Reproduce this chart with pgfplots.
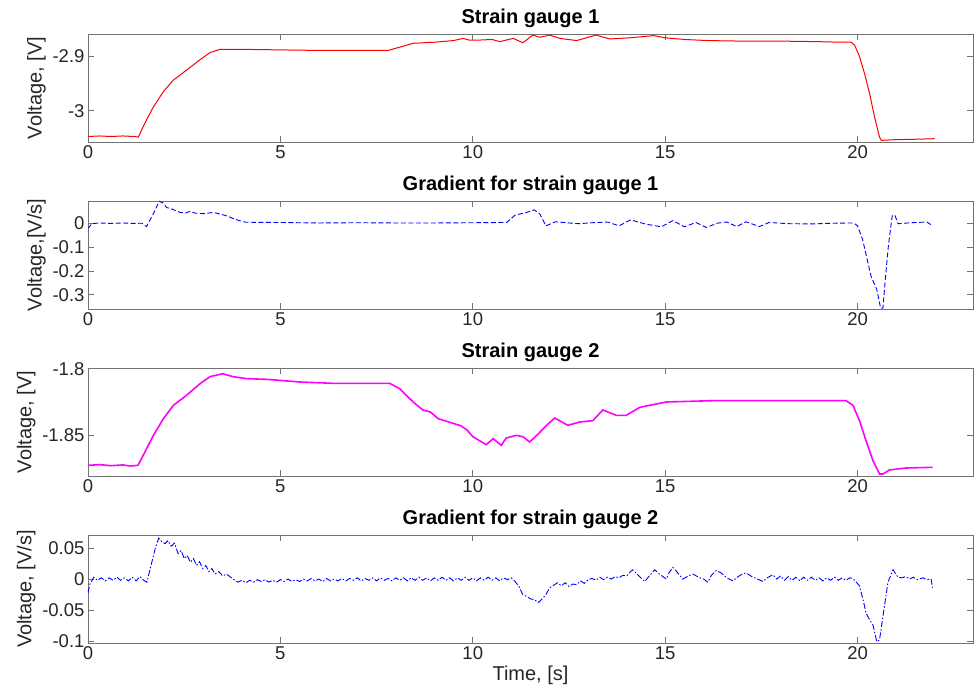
\documentclass[border=0pt]{standalone}
\usepackage{fontspec}
\setmainfont{Liberation Sans}
\usepackage{pgfplots}
\pgfplotsset{compat=1.18}
\definecolor{mred}{RGB}{255,0,0}
\definecolor{mmag}{RGB}{255,0,255}
\definecolor{mblue}{RGB}{0,0,255}
\pgfplotsset{
  panel/.style={
    width=885pt, height=108pt, scale only axis,
    anchor=south west,
    xmin=0, xmax=23,
    xtick={0,5,10,15,20}, xticklabels={0,5,10,15,20},
    tick align=inside,
    axis line style={black!55, line width=0.8pt},
    tick style={black!55, line width=0.8pt},
    major tick length=6pt,
    tick label style={font=\fontsize{18.5}{20}\selectfont, text=black!85},
    label style={font=\fontsize{20}{22}\selectfont, text=black!85},
    title style={font=\bfseries\fontsize{20}{22}\selectfont, yshift=-3pt},
  }
}
\begin{document}
\begin{tikzpicture}
\useasboundingbox (0pt,0pt) rectangle (977pt,700pt);

% ---------- Panel 1 ----------
\begin{axis}[panel, at={(88pt,558pt)},
  title={Strain gauge 1},
  ylabel={Voltage, [V]},
  ymin=-3.057, ymax=-2.86,
  ytick={-3,-2.9}, yticklabels={-3,-2.9}]
\addplot[mred, line width=1pt] coordinates {
(0,-3.047)(0.3,-3.046)(0.6,-3.047)(0.9,-3.046)(1.2,-3.047)(1.31,-3.048)(1.4,-3.034)(1.52,-3.017)(1.7,-2.993)(1.96,-2.965)(2.22,-2.944)(2.56,-2.926)(2.91,-2.907)(3.17,-2.894)(3.43,-2.888)(4,-2.888)(5,-2.889)(6,-2.890)(7,-2.890)(7.8,-2.890)(8.1,-2.884)(8.45,-2.877)(9,-2.875)(9.5,-2.872)(9.75,-2.868)(9.9,-2.871)(10.2,-2.871)(10.5,-2.870)(10.7,-2.874)(11.05,-2.868)(11.3,-2.876)(11.45,-2.868)(11.56,-2.862)(11.74,-2.866)(12.0,-2.862)(12.26,-2.868)(12.7,-2.872)(13.0,-2.866)(13.2,-2.862)(13.4,-2.866)(13.56,-2.869)(14.08,-2.867)(14.7,-2.863)(15.0,-2.867)(15.5,-2.870)(16.1,-2.872)(17,-2.873)(18,-2.873)(19,-2.874)(19.53,-2.875)(19.83,-2.875)(19.92,-2.880)(20.05,-2.901)(20.18,-2.932)(20.31,-2.968)(20.44,-3.011)(20.57,-3.048)(20.62,-3.054)(20.9,-3.053)(21.5,-3.052)(22.0,-3.051)
};
\end{axis}

% ---------- Panel 2 ----------
\begin{axis}[panel, at={(88pt,391pt)},
  title={Gradient for strain gauge 1},
  ylabel={Voltage,[V/s]},
  ymin=-0.359, ymax=0.093,
  ytick={-0.3,-0.2,-0.1,0}, yticklabels={-0.3,-0.2,-0.1,0}]
\addplot[mblue, line width=0.9pt, dash pattern=on 5pt off 2.5pt] coordinates {
(0,-0.022)(0.1,-0.002)(0.3,0.001)(0.6,-0.001)(0.9,0.001)(1.2,-0.001)(1.4,0)(1.52,-0.014)(1.7,0.04)(1.85,0.092)(1.95,0.085)(2.04,0.066)(2.2,0.058)(2.4,0.045)(2.55,0.043)(2.64,0.049)(2.8,0.042)(3.0,0.040)(3.26,0.045)(3.4,0.040)(3.6,0.031)(3.8,0.018)(3.95,0.010)(4.1,0.004)(5,0.003)(6,0.001)(7,0.002)(8,0.001)(9,0.001)(10,0.002)(10.88,0.003)(11.1,0.034)(11.4,0.045)(11.6,0.056)(11.74,0.039)(11.9,-0.011)(12.15,0.006)(12.5,0.001)(12.76,-0.002)(13.1,0.002)(13.5,0.005)(13.8,-0.011)(14.1,0.014)(14.5,-0.004)(14.9,-0.015)(15.2,0.011)(15.5,-0.015)(15.8,0.003)(16.07,-0.018)(16.35,0.000)(16.6,0.005)(16.86,-0.014)(17.1,0.006)(17.45,-0.014)(17.7,0.003)(18.2,-0.002)(18.8,-0.003)(19.4,0.000)(19.9,0.001)(20.0,-0.011)(20.13,-0.068)(20.35,-0.222)(20.5,-0.278)(20.6,-0.356)(20.66,-0.355)(20.72,-0.236)(20.8,-0.096)(20.9,0.031)(20.97,0.034)(21.05,-0.002)(21.4,0.002)(21.8,0.005)(21.95,-0.011)
};
\end{axis}

% ---------- Panel 3 ----------
\begin{axis}[panel, at={(88pt,224pt)},
  title={Strain gauge 2},
  ylabel={Voltage, [V]},
  ymin=-1.8805, ymax=-1.7995,
  ytick={-1.85,-1.8}, yticklabels={-1.85,-1.8}]
\addplot[mmag, line width=1.6pt] coordinates {
(0,-1.8725)(0.3,-1.8720)(0.6,-1.8728)(0.9,-1.8722)(1.1,-1.8730)(1.3,-1.8725)(1.48,-1.8625)(1.7,-1.850)(1.96,-1.8375)(2.22,-1.8275)(2.56,-1.820)(2.91,-1.8113)(3.17,-1.806)(3.5,-1.8038)(3.77,-1.806)(4.12,-1.8075)(4.64,-1.808)(5.5,-1.810)(6.37,-1.811)(7.2,-1.811)(7.84,-1.811)(8.1,-1.815)(8.45,-1.825)(8.7,-1.831)(8.9,-1.8325)(9.1,-1.8375)(9.49,-1.841)(9.7,-1.843)(9.85,-1.846)(10.0,-1.851)(10.35,-1.857)(10.53,-1.8525)(10.74,-1.8575)(10.87,-1.852)(11.13,-1.850)(11.3,-1.851)(11.48,-1.855)(11.7,-1.849)(11.9,-1.843)(12.13,-1.837)(12.47,-1.8425)(12.78,-1.840)(13.12,-1.839)(13.38,-1.831)(13.73,-1.835)(13.99,-1.835)(14.34,-1.829)(14.68,-1.827)(15.03,-1.825)(16.24,-1.824)(17.5,-1.824)(18.5,-1.824)(19.7,-1.824)(19.88,-1.8275)(20.05,-1.839)(20.22,-1.854)(20.4,-1.869)(20.57,-1.879)(20.66,-1.879)(20.83,-1.876)(21.26,-1.8745)(21.95,-1.874)
};
\end{axis}

% ---------- Panel 4 ----------
\begin{axis}[panel, at={(88pt,57pt)},
  title={Gradient for strain gauge 2},
  ylabel={Voltage, [V/s]},
  xlabel={Time, [s]},
  ymin=-0.103, ymax=0.071,
  ytick={-0.1,-0.05,0,0.05}, yticklabels={-0.1,-0.05,0,0.05}]
\addplot[mblue, line width=0.9pt, dash pattern=on 6pt off 2pt on 1.5pt off 2pt] coordinates {
(0,-0.022)(0.05,-0.008)(0.15,0.003)(0.25,-0.002)(0.35,0.002)(0.45,-0.003)(0.55,0.002)(0.65,-0.002)(0.75,0.003)(0.85,-0.002)(0.95,0.002)(1.05,-0.003)(1.15,0.003)(1.25,-0.003)(1.35,0.004)(1.45,-0.002)(1.53,-0.005)(1.65,0.025)(1.75,0.050)(1.84,0.066)(1.92,0.060)(2.0,0.057)(2.08,0.062)(2.16,0.053)(2.25,0.058)(2.34,0.041)(2.42,0.046)(2.5,0.033)(2.58,0.038)(2.66,0.027)(2.74,0.033)(2.82,0.022)(2.9,0.028)(2.98,0.017)(3.06,0.022)(3.14,0.012)(3.22,0.017)(3.3,0.008)(3.4,0.012)(3.5,0.005)(3.6,0.008)(3.75,0.001)(3.9,-0.005)(4.0,-0.002)(4.1,-0.006)(4.2,-0.002)(4.3,-0.005)(4.4,-0.001)
(4.5,-0.004)(4.6,-0.001)(4.7,-0.005)(4.8,-0.002)(4.9,-0.005)(5.0,-0.001)(5.1,-0.004)(5.2,0.000)(5.3,-0.004)(5.4,-0.001)(5.5,-0.004)(5.6,0.000)(5.7,-0.003)(5.8,0.001)(5.9,-0.003)(6.0,0.000)(6.1,-0.004)(6.2,0.001)(6.3,-0.003)(6.4,0.000)(6.5,-0.003)(6.6,0.001)(6.7,-0.003)(6.8,0.001)(6.9,-0.002)(7.0,0.002)(7.1,-0.003)(7.2,0.001)(7.3,-0.002)(7.4,0.002)(7.5,-0.003)(7.6,0.002)(7.7,-0.002)(7.8,0.001)(7.9,-0.003)(8.0,0.002)(8.1,-0.002)(8.2,0.002)(8.3,-0.003)(8.4,0.002)(8.5,-0.002)(8.6,0.003)(8.7,-0.002)(8.8,0.002)(8.9,-0.003)(9.0,0.002)(9.1,-0.002)(9.2,0.003)(9.3,-0.002)(9.4,0.002)(9.5,-0.003)(9.6,0.002)(9.7,-0.002)(9.8,0.003)(9.9,-0.002)(10.0,0.002)(10.1,-0.003)(10.2,0.002)(10.3,-0.002)(10.4,0.003)(10.5,-0.002)(10.6,0.002)(10.7,-0.003)(10.8,0.002)(10.9,-0.001)(11.0,0.002)(11.1,-0.004)(11.2,-0.012)(11.3,-0.025)(11.4,-0.028)(11.5,-0.032)(11.6,-0.033)(11.7,-0.038)(11.8,-0.032)(11.9,-0.025)(12.0,-0.014)(12.1,-0.010)(12.2,-0.006)(12.3,-0.011)(12.4,-0.006)(12.5,-0.012)(12.6,-0.008)(12.7,-0.009)(12.8,-0.003)(12.9,-0.007)(13.0,-0.001)(13.1,0.001)(13.2,-0.002)(13.3,0.003)(13.4,-0.001)(13.5,0.003)(13.6,0.000)(13.7,0.004)(13.8,0.002)(13.9,0.006)(14.0,0.005)(14.1,0.012)(14.16,0.015)(14.3,0.006)(14.47,-0.004)(14.6,0.006)(14.73,0.015)(14.85,0.008)(15.03,0.000)(15.1,0.010)(15.2,0.019)(15.3,0.012)(15.46,0.000)(15.6,0.005)(15.72,0.008)(15.9,0.002)(16.0,0.000)(16.11,-0.005)(16.2,0.006)(16.33,0.014)(16.45,0.010)(16.6,0.002)(16.76,-0.003)(16.9,0.004)(17.0,0.008)(17.1,0.010)(17.25,0.004)(17.4,0.000)(17.54,-0.004)(17.65,0.002)(17.8,0.007)(17.9,0.000)(18.0,0.005)(18.1,-0.002)(18.2,0.004)(18.3,-0.002)(18.4,0.003)(18.5,-0.003)(18.6,0.003)(18.7,-0.002)(18.8,0.003)(18.9,-0.002)(19.0,0.002)(19.1,-0.003)(19.2,0.002)(19.3,-0.002)(19.4,0.003)(19.5,-0.002)(19.6,0.002)(19.7,-0.002)(19.8,0.002)(19.88,0.001)(20.05,-0.011)(20.15,-0.035)(20.22,-0.055)(20.3,-0.064)(20.4,-0.074)(20.5,-0.101)(20.57,-0.098)(20.66,-0.060)(20.79,-0.005)(20.92,0.015)(21.05,0.003)(21.15,0.002)(21.25,0.004)(21.35,0.000)(21.45,0.003)(21.55,-0.001)(21.7,0.002)(21.8,-0.001)(21.91,0.000)(21.95,-0.014)
};
\end{axis}
\end{tikzpicture}
\end{document}
